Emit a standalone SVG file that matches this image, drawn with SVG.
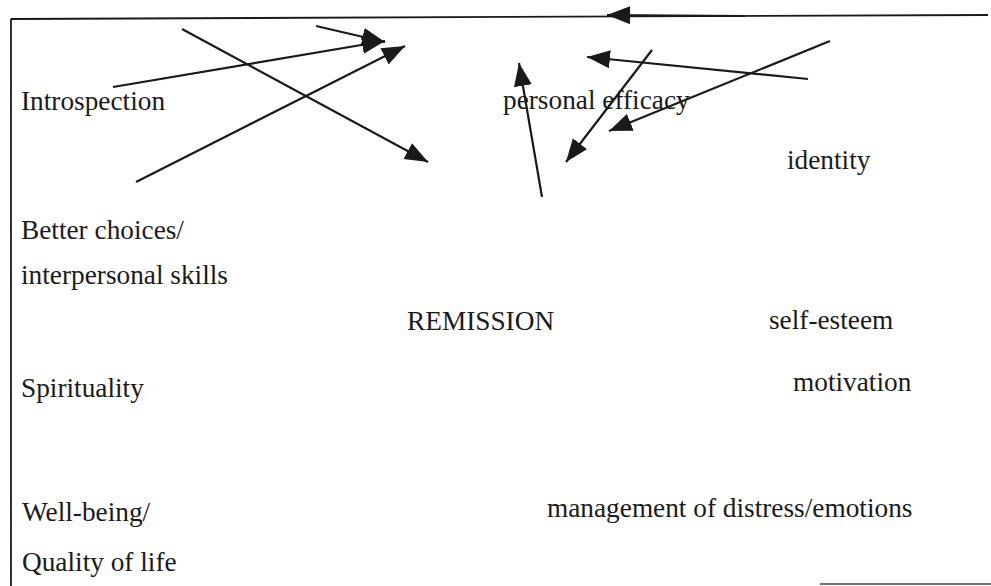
<svg xmlns="http://www.w3.org/2000/svg" width="991" height="586" viewBox="0 0 991 586">
<defs>
<style>
text{font-family:"Liberation Serif","Times New Roman",serif;font-size:27.3px;fill:#1a1a1a}
.c line{stroke:#1a1a1a;stroke-width:2.2;marker-end:url(#ah)}
.frame{stroke:#1a1a1a;stroke-width:1.8;fill:none}
</style>
<marker id="ah" markerUnits="userSpaceOnUse" markerWidth="26" markerHeight="20" refX="23" refY="9" orient="auto">
<path d="M0,0 L23,9 L0,18 z" fill="#1a1a1a"/>
</marker>
</defs>
<rect width="991" height="586" fill="#fff"/>
<g id="frame">
<line class="frame" x1="11" y1="19" x2="11" y2="586"/>
<line class="frame" x1="11" y1="19" x2="988" y2="15"/>
<line x1="820" y1="584" x2="991" y2="584" stroke="#444" stroke-width="1.5"/>
</g>
<g id="connectors" class="c">
<line x1="113" y1="87" x2="385" y2="41"/>
<line x1="316" y1="26" x2="385" y2="42"/>
<line x1="136" y1="182" x2="405" y2="46"/>
<line x1="182" y1="29" x2="428" y2="162"/>
<line x1="745" y1="16" x2="607" y2="15"/>
<line x1="808" y1="79" x2="587" y2="57"/>
<line x1="652" y1="50" x2="566" y2="162"/>
<line x1="830" y1="41" x2="609" y2="131"/>
<line x1="542" y1="197" x2="519" y2="63"/>
</g>
<g id="n-introspection"><text x="21" y="110">Introspection</text></g>
<g id="n-efficacy"><text x="503" y="109">personal efficacy</text></g>
<g id="n-identity"><text x="787" y="169">identity</text></g>
<g id="n-choices"><text x="21" y="239">Better choices/</text><text x="21" y="284">interpersonal skills</text></g>
<g id="n-remission"><text x="407" y="330">REMISSION</text></g>
<g id="n-selfesteem"><text x="769" y="329">self-esteem</text></g>
<g id="n-spirituality"><text x="21" y="397">Spirituality</text></g>
<g id="n-motivation"><text x="793" y="391">motivation</text></g>
<g id="n-wellbeing"><text x="22" y="521">Well-being/</text><text x="22" y="571">Quality of life</text></g>
<g id="n-distress"><text x="547" y="517">management of distress/emotions</text></g>
</svg>
